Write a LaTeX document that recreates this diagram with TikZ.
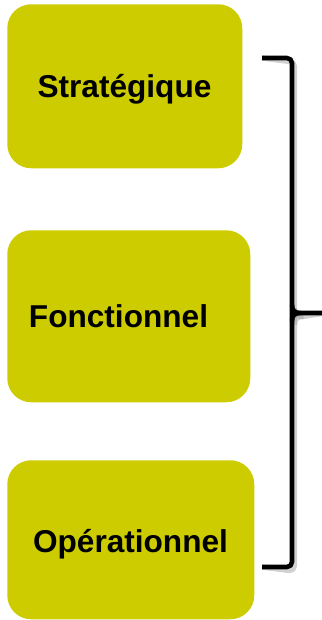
\documentclass[tikz,border=0pt]{standalone}
\usepackage{fontspec}
\setmainfont{Liberation Sans}
\begin{document}
\begin{tikzpicture}[x=0.75pt,y=-0.75pt,
  levelbox/.style={fill=lvl, draw=none, rounded corners=18pt, inner sep=0pt, anchor=north west},
  leveltext/.style={font=\fontsize{23.7}{28}\selectfont\bfseries, inner sep=0pt, anchor=base},
  bracket/.style={line width=3.4pt, line cap=butt, line join=round},
  bracketshade/.style={line width=4pt, draw=black!40, opacity=0.45}]
\definecolor{lvl}{HTML}{CCCC00}
\useasboundingbox (0,0) rectangle (321,620);

% level boxes
\node[levelbox, minimum width=235*0.75pt, minimum height=164*0.75pt] (b1) at (7,4) {};
\node[levelbox, minimum width=243*0.75pt, minimum height=172*0.75pt] (b2) at (7,230) {};
\node[levelbox, minimum width=247*0.75pt, minimum height=159*0.75pt] (b3) at (7,460) {};

% labels
\node[leveltext] (t1) at (124.5,98) {Stratégique};
\node[leveltext] (t2) at (118.5,327) {Fonctionnel};
\node[leveltext] (t3) at (130.5,552) {Opérationnel};

% bracket anchors
\coordinate (top) at (262,58);
\coordinate (bot) at (262,567);
\coordinate (tip) at (325,313);

% soft shadow of the bracket
\begin{scope}[shift={(2.5,3.5)}]
  \draw[bracketshade] (top) -- (287,58) arc[start angle=90, end angle=0, radius=3.75pt]
    -- (292,562) arc[start angle=0, end angle=-90, radius=3.75pt] -- (bot);
  \draw[bracketshade] (292,305) .. controls (292,311) and (295,313) .. (301,313) -- (tip);
  \draw[bracketshade] (292,321) .. controls (292,315) and (295,313) .. (301,313);
\end{scope}

% bracket
\draw[bracket] (top) -- (287,58) arc[start angle=90, end angle=0, radius=3.75pt]
  -- (292,562) arc[start angle=0, end angle=-90, radius=3.75pt] -- (bot);
\draw[bracket] (292,305) .. controls (292,311) and (295,313) .. (301,313) -- (tip);
\draw[bracket] (292,321) .. controls (292,315) and (295,313) .. (301,313);
\end{tikzpicture}
\end{document}
